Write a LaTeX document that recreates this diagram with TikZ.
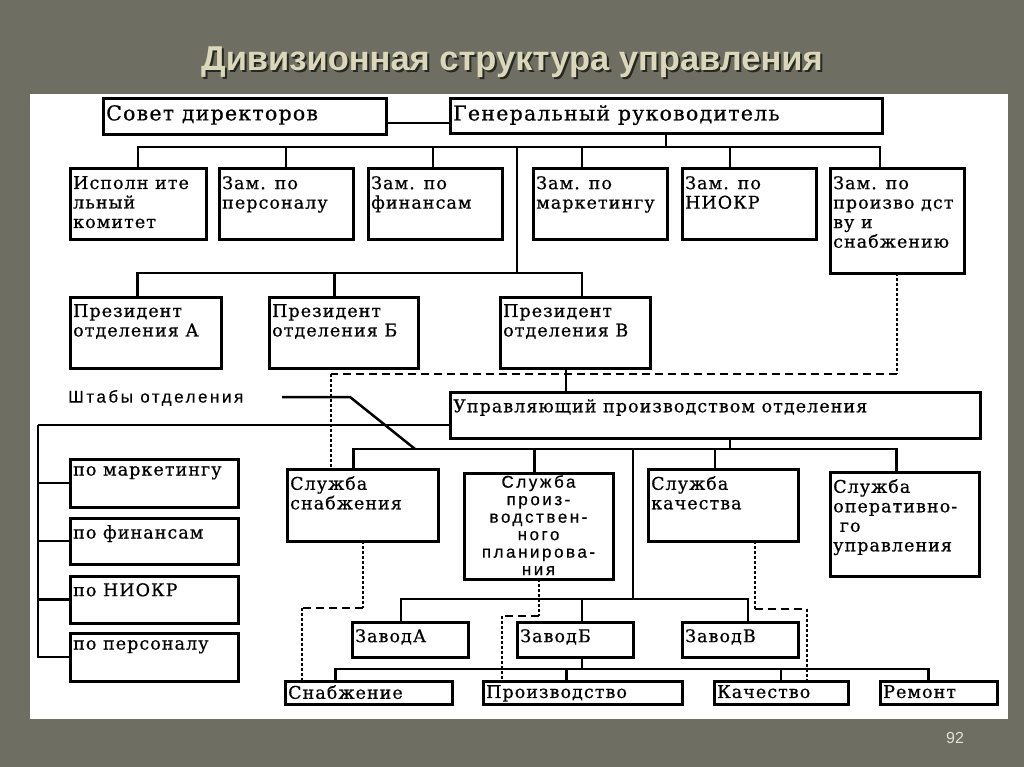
\documentclass[tikz,border=0pt]{standalone}
\usepackage{fontspec}
\setmainfont{DejaVu Serif}
\newfontfamily\boxfont[LetterSpace=6,FakeBold=0.6]{DejaVu Serif}
\newfontfamily\stafffont[LetterSpace=15,FakeBold=0.4]{Liberation Sans}
\newfontfamily\titlefont{Liberation Sans}
\definecolor{slidegrey}{RGB}{110,111,98}
\definecolor{titlebeige}{RGB}{218,215,186}
\definecolor{titleshadow}{RGB}{40,40,34}
\definecolor{pagegrey}{RGB}{225,225,215}

\begin{document}
\begin{tikzpicture}[x=1pt,y=-1pt,
    box/.style={draw, line width=3pt, anchor=north west, inner sep=0pt, outer sep=0pt},
    txt/.style={anchor=north west, inner xsep=3pt, inner ysep=7pt, align=left,
        font=\boxfont\fontsize{17.5}{19.5}\selectfont},
    bigtxt/.style={txt, font=\boxfont\fontsize{20.5}{21}\selectfont},
    ctxt/.style={anchor=north, inner sep=2pt, align=center,
        font=\stafffont\fontsize{17}{17.5}\selectfont},
    link/.style={line width=2.5pt},
    vdot/.style={line width=2pt, dash pattern=on 2.5pt off 2.5pt},
    hdash/.style={line width=1.7pt, dash pattern=on 8pt off 5pt}]
            \useasboundingbox (0,0) rectangle (1024,767);
            \fill[slidegrey] (0,0) rectangle (1024,767);
            \fill[white] (30,94) rectangle (1008,719);

            % title
            \node[font=\titlefont\bfseries\fontsize{34.5}{38}\selectfont, text=titleshadow] (tshadow) at (514,64) {Дивизионная структура управления};
            \node[font=\titlefont\bfseries\fontsize{34.5}{38}\selectfont, text=titlebeige] (title) at (512,62) {Дивизионная структура управления};
            \node[font=\titlefont\fontsize{16}{18}\selectfont, text=pagegrey] (page) at (955,738) {92};

            % top level
            \node[box, minimum width=283, minimum height=36, label={[bigtxt, inner ysep=6pt]north west:Совет директоров}] (sd) at (103,99) {};
            \node[box, minimum width=432, minimum height=35, label={[bigtxt, inner ysep=6pt]north west:Генеральный руководитель}] (gr) at (450,99) {};

            % deputies
            \node[box, minimum width=136, minimum height=70, label={[txt]north west:Исполн ите\\льный\\комитет}] (ik) at (70,169) {};
            \node[box, minimum width=134, minimum height=70, label={[txt]north west:Зам. по\\персоналу}] (zper) at (219,169) {};
            \node[box, minimum width=134, minimum height=70, label={[txt]north west:Зам. по\\финансам}] (zfin) at (368,169) {};
            \node[box, minimum width=134, minimum height=70, label={[txt]north west:Зам. по\\маркетингу}] (zmar) at (533,169) {};
            \node[box, minimum width=134, minimum height=70, label={[txt]north west:Зам. по\\НИОКР}] (zniokr) at (682,169) {};
            \node[box, minimum width=134, minimum height=104, label={[txt]north west:Зам. по\\произво дст\\ву и\\снабжению}] (zpr) at (830,169) {};

            % presidents
            \node[box, minimum width=151, minimum height=71, label={[txt]north west:Президент\\отделения А}] (pa) at (70,297) {};
            \node[box, minimum width=149, minimum height=71, label={[txt]north west:Президент\\отделения Б}] (pb) at (269,297) {};
            \node[box, minimum width=150, minimum height=71, label={[txt]north west:Президент\\отделения В}] (pv) at (500,297) {};

            % division
            \node[box, minimum width=530, minimum height=46, label={[txt]north west:Управляющий производством отделения}] (upr) at (450,392) {};
            \node[anchor=west, inner sep=0pt, font=\stafffont\fontsize{17}{18}\selectfont] (sht) at (68,398) {Штабы отделения};

            \node[box, minimum width=168, minimum height=48, label={[txt]north west:по маркетингу}] (shmar) at (70,459) {};
            \node[box, minimum width=168, minimum height=46, label={[txt]north west:по финансам}] (shfin) at (70,518) {};
            \node[box, minimum width=168, minimum height=47, label={[txt]north west:по НИОКР}] (shniokr) at (70,576) {};
            \node[box, minimum width=168, minimum height=48, label={[txt]north west:по персоналу}] (shper) at (70,633) {};

            \node[box, minimum width=151, minimum height=72, label={[txt]north west:Служба\\снабжения}] (ss) at (287,469) {};
            \node[box, minimum width=149, minimum height=106, label={[ctxt]north:Служба\\произ-\\водствен-\\ного\\планирова-\\ния}] (spp) at (464,473) {};
            \node[box, minimum width=150, minimum height=72, label={[txt]north west:Служба\\качества}] (sk) at (648,469) {};
            \node[box, minimum width=149, minimum height=104, label={[txt]north west:Служба\\оперативно-\\~го\\управления}] (so) at (830,472) {};

            % plants
            \node[box, minimum width=116, minimum height=35, label={[txt]north west:ЗаводА}] (za) at (352,622) {};
            \node[box, minimum width=116, minimum height=35, label={[txt]north west:ЗаводБ}] (zb) at (517,622) {};
            \node[box, minimum width=116, minimum height=35, label={[txt]north west:ЗаводВ}] (zv) at (682,622) {};

            \node[box, minimum width=167, minimum height=23, label={[txt, inner ysep=4pt]north west:Снабжение}] (sn) at (285,681) {};
            \node[box, minimum width=199, minimum height=23, label={[txt, inner ysep=4pt]north west:Производство}] (pr) at (483,681) {};
            \node[box, minimum width=134, minimum height=23, label={[txt, inner ysep=4pt]north west:Качество}] (ka) at (714,681) {};
            \node[box, minimum width=117, minimum height=23, label={[txt, inner ysep=4pt]north west:Ремонт}] (re) at (880,681) {};

            % bus points
            \coordinate (gbus) at (666,147);
            \coordinate (pbus) at (517,273);
            \coordinate (ubus) at (730,449);
            \coordinate (zbus) at (633,599);
            \coordinate (bbus) at (582,669);
            \coordinate (sline) at (38,425);
            \coordinate (sh1) at (282,397);
            \coordinate (sh2) at (350,397);
            \coordinate (sh3) at (415,449);

            % line links
            \draw[link] ([yshift=-6pt]sd.east) -- ([yshift=-6pt]sd.east -| gr.west);
            \draw[link] (gr.south) -- (gbus);
            \draw[link] (ik.north) |- (gbus);
            \draw[link] (zper.north) |- (gbus);
            \draw[link] ([xshift=-2pt]zfin.north) |- (gbus);
            \draw[link] ([xshift=-18pt]zmar.north) |- (gbus);
            \draw[link] ([xshift=-19pt]zniokr.north) |- (gbus);
            \draw[link] ([xshift=-17pt]zpr.north) |- (gbus);
            \draw[link] (gbus) -| (pbus);
            \draw[link] ([xshift=-8pt]pa.north) |- (pbus);
            \draw[link] ([xshift=-9pt]pb.north) |- (pbus);
            \draw[link] ([xshift=7pt]pv.north) |- (pbus);
            \draw[link] ([xshift=-9pt]pv.south) -- ([xshift=-9pt]pv.south |- upr.north);

            \draw[link] ([xshift=15pt]upr.south) -- (ubus);
            \draw[link] ([xshift=-9pt]ss.north) |- (ubus);
            \draw[link] ([xshift=-4pt]spp.north) |- (ubus);
            \draw[link] ([xshift=-8pt]sk.north) |- (ubus);
            \draw[link] ([xshift=-8pt]so.north) |- (ubus);
            \draw[link] (ubus) -| (zbus);
            \draw[link] ([xshift=-9pt]za.north) |- (zbus);
            \draw[link] ([xshift=7pt]zb.north) |- (zbus);
            \draw[link] ([xshift=8pt]zv.north) |- (zbus);
            \draw[link] ([xshift=7pt]zb.south) -- (bbus);
            \draw[link] ([xshift=-33pt]sn.north) |- (bbus);
            \draw[link] ([xshift=-16pt]pr.north) |- (bbus);
            \draw[link] (ka.north) |- (bbus);
            \draw[link] ([xshift=-10pt]re.north) |- (bbus);

            % staff
            \draw[link] ([yshift=-10pt]upr.west) -- (sline);
            \draw[link] (shmar.west) -| (sline);
            \draw[link] (shfin.west) -| (sline);
            \draw[link] (shniokr.west) -| (sline);
            \draw[link] (shper.west) -| (sline);
            \draw[link] (sh1) -- (sh2) -- (sh3);

            % dashed links
            \coordinate (d1a) at (897,374);
            \coordinate (d1b) at (331,374);
            \draw[vdot] (zpr.south) -- (d1a);
            \draw[hdash] (d1a) -- (d1b);
            \draw[vdot] (d1b) -- (d1b |- ss.north);
            \coordinate (d2a) at (362.5,608);
            \coordinate (d2b) at (302,608);
            \draw[vdot] (ss.south) -- (d2a);
            \draw[hdash] (d2a) -- (d2b);
            \draw[vdot] (d2b) -- (d2b |- sn.north);
            \coordinate (d3a) at (538.5,616);
            \coordinate (d3b) at (502,616);
            \draw[vdot] (spp.south) -- (d3a);
            \draw[hdash] (d3a) -- (d3b);
            \draw[vdot] (d3b) -- (d3b |- pr.north);
            \coordinate (d4a) at (755,609);
            \coordinate (d4b) at (807,609);
            \draw[vdot] ([xshift=32pt]sk.south) -- (d4a);
            \draw[hdash] (d4a) -- (d4b);
            \draw[vdot] (d4b) -- (d4b |- ka.north);
        \end{tikzpicture}
\end{document}
